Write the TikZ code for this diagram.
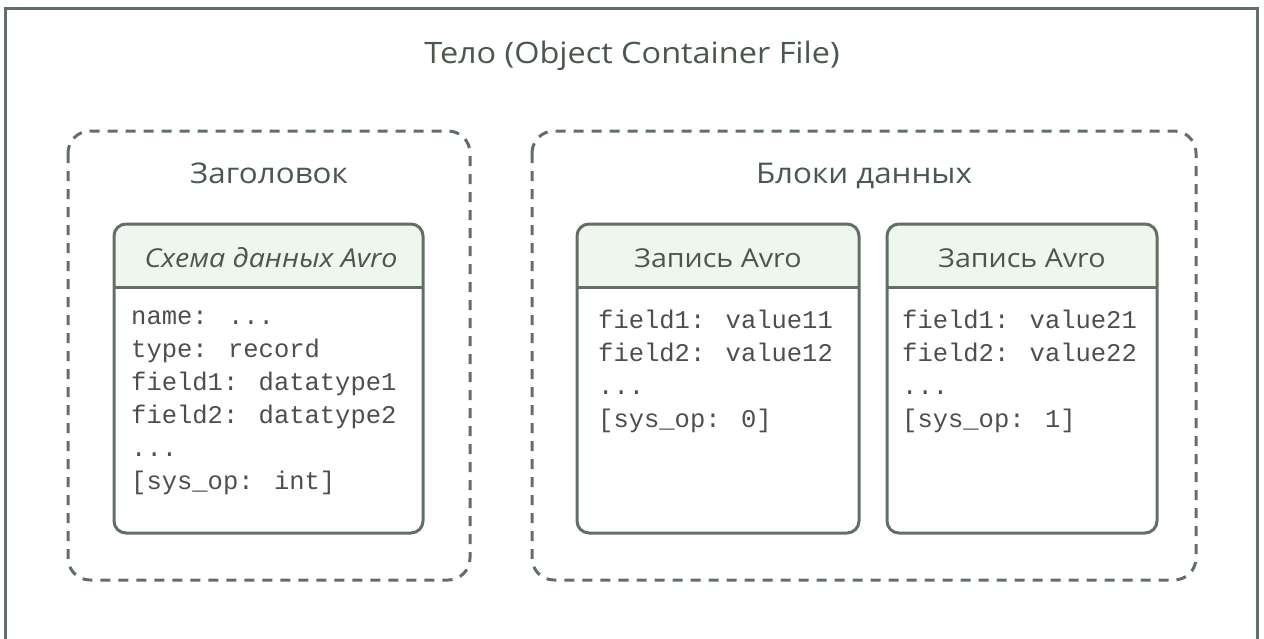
\documentclass[tikz,border=0pt]{standalone}
\usepackage{fontspec}
\setmainfont{Open Sans}[FakeStretch=1.1]
\newfontfamily\monofont{Liberation Mono}
\definecolor{strokec}{RGB}{96,112,100}
\definecolor{textc}{RGB}{72,88,76}
\definecolor{headc}{RGB}{238,246,238}
\definecolor{monoc}{RGB}{78,78,78}
\begin{document}
\begin{tikzpicture}[x=1pt,y=-1pt,
  frame/.style={draw=strokec,line width=3pt},
  groupbox/.style={draw=strokec,line width=3pt,dash pattern=on 10pt off 8pt,rounded corners=22pt},
  card/.style={draw=strokec,line width=3pt,rounded corners=12pt},
  titlelabel/.style={text=textc,inner sep=0pt,font=\fontsize{29.5}{33}\selectfont},
  sanslabel/.style={text=textc,inner sep=0pt,font=\fontsize{28.5}{32}\selectfont},
  headlabel/.style={text=textc,inner sep=0pt,font=\fontsize{26}{30}\selectfont},
  monoline/.style={text=monoc,inner sep=0pt,anchor=base west,font=\monofont\fontsize{25.5}{33}\selectfont}]
\useasboundingbox (0,0) rectangle (1264,638);
\begin{scope}
\clip (0,0) rectangle (1264,638);
\draw[frame] (5,8) rectangle (1257,660);
\end{scope}
\node[titlelabel,anchor=base] (title) at (632,63) {Тело (Object Container File)};
% groups
\draw[groupbox] (68,131) rectangle (470,580);
\draw[groupbox] (532,131) rectangle (1196,580);
\node[sanslabel,anchor=base] (hdr) at (269,183) {Заголовок};
\node[sanslabel,anchor=base] (blocks) at (864,183) {Блоки данных};
% schema card
\begin{scope}
\clip[rounded corners=12pt] (114,224) rectangle (423,533);
\fill[headc] (114,224) rectangle (423,287);
\end{scope}
\draw[strokec,line width=3pt] (114,287) -- (423,287);
\draw[card] (114,224) rectangle (423,533);
\node[headlabel,anchor=base,font=\itshape\fontsize{26}{30}\selectfont] (schemah) at (271,267) {Схема данных Avro};
\node[monoline] (s1) at (131,324) {name: ...};
\node[monoline] (s2) at (131,357) {type: record};
\node[monoline] (s3) at (131,390) {field1: datatype1};
\node[monoline] (s4) at (131,423) {field2: datatype2};
\node[monoline] (s5) at (131,456) {...};
\node[monoline] (s6) at (131,489) {[sys\_op: int]};
% record 1
\begin{scope}
\clip[rounded corners=12pt] (577,224) rectangle (859,533);
\fill[headc] (577,224) rectangle (859,287);
\end{scope}
\draw[strokec,line width=3pt] (577,287) -- (859,287);
\draw[card] (577,224) rectangle (859,533);
\node[headlabel,anchor=base] (r1h) at (718,267) {Запись Avro};
\node[monoline] (a1) at (598,328) {field1: value11};
\node[monoline] (a2) at (598,361) {field2: value12};
\node[monoline] (a3) at (598,394) {...};
\node[monoline] (a4) at (598,427) {[sys\_op: 0]};
% record 2
\begin{scope}
\clip[rounded corners=12pt] (887,224) rectangle (1157,533);
\fill[headc] (887,224) rectangle (1157,287);
\end{scope}
\draw[strokec,line width=3pt] (887,287) -- (1157,287);
\draw[card] (887,224) rectangle (1157,533);
\node[headlabel,anchor=base] (r2h) at (1022,267) {Запись Avro};
\node[monoline] (b1) at (902,328) {field1: value21};
\node[monoline] (b2) at (902,361) {field2: value22};
\node[monoline] (b3) at (902,394) {...};
\node[monoline] (b4) at (902,427) {[sys\_op: 1]};
\end{tikzpicture}
\end{document}
